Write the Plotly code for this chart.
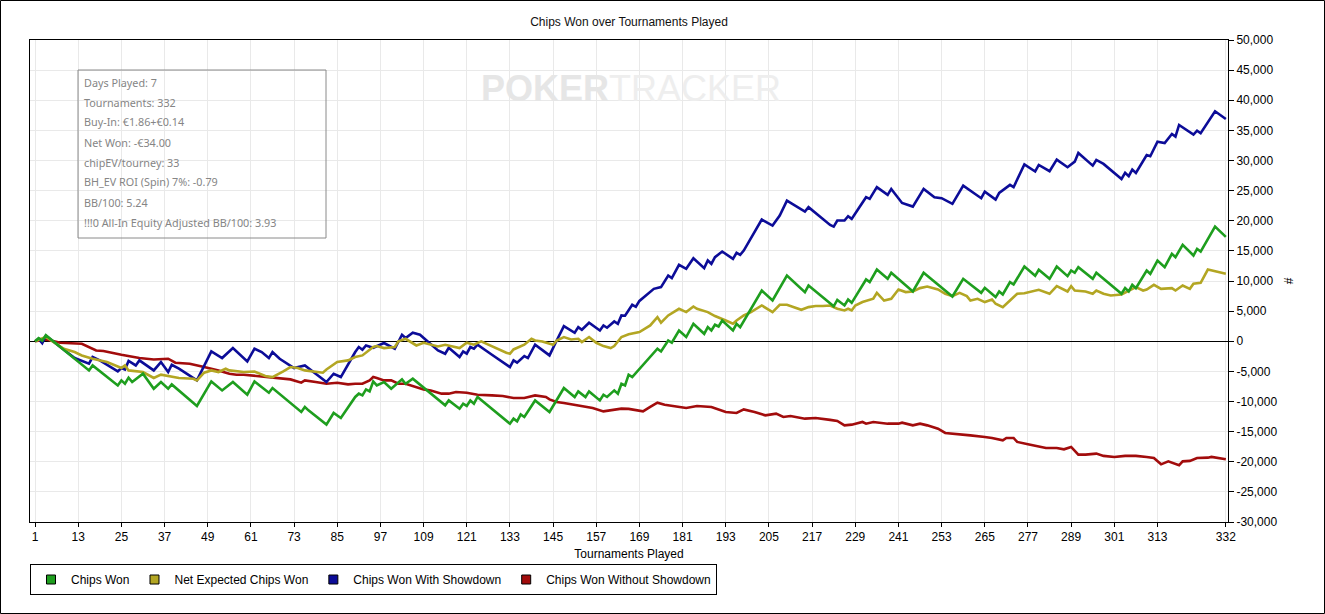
import plotly.graph_objects as go

# (tournament, chips) pairs
chips_won = [
    (1, 0), (2, 500), (3, 100), (4, 1000), (16, -4840), (17, -4010), (24, -7330), (25, -6500),
    (26, -7050), (27, -6050), (28, -6760), (31, -5390), (34, -7880), (36, -6760), (38, -7880),
    (39, -7160), (46, -10740), (50, -6670), (53, -8160), (56, -6760), (60, -8870), (62, -6670),
    (66, -8540), (67, -7760), (75, -11740), (76, -10910), (77, -11470), (82, -13840), (84, -11900),
    (86, -12730), (90, -9250), (91, -8700), (92, -8990), (93, -7990), (94, -8320), (95, -6670),
    (96, -7330), (98, -6760), (100, -7880), (103, -6330), (104, -7050), (106, -6220), (115, -10640),
    (116, -9820), (119, -11190), (120, -10360), (121, -10740), (122, -9820), (123, -10360),
    (124, -9250), (133, -13680), (134, -12850), (135, -13300), (136, -12140), (137, -12570),
    (140, -9820), (144, -11740), (148, -7760), (151, -9250), (152, -8320), (154, -9250),
    (155, -8320), (158, -9820), (159, -8870), (160, -9250), (162, -8160), (163, -8700),
    (164, -7050), (165, -7330), (166, -5550), (167, -5940), (169, -4600), (174, -1240),
    (175, -1690), (177, 130), (178, -250), (180, 1790), (182, 700), (184, 2900), (187, 1240),
    (188, 2350), (189, 1790), (190, 2740), (191, 2450), (192, 3450), (195, 1790), (196, 2900),
    (197, 2350), (203, 8420), (206, 6760), (210, 10910), (215, 8160), (216, 9250), (223, 5800),
    (224, 6850), (226, 5940), (227, 6930), (228, 6380), (232, 10250), (233, 9820), (235, 11900),
    (238, 10360), (239, 11360), (245, 8260), (248, 11360), (256, 7430), (259, 10360), (264, 8040),
    (265, 8870), (268, 7330), (269, 8260), (270, 7760), (272, 9820), (273, 9420), (276, 12400),
    (279, 10860), (280, 11870), (283, 10360), (285, 12400), (288, 10810), (289, 11740),
    (290, 11360), (291, 12300), (295, 10360), (296, 11360), (303, 7880), (304, 8820), (305, 8260),
    (306, 9370), (307, 8820), (310, 11740), (311, 11190), (313, 13400), (315, 12300), (317, 14510),
    (318, 13960), (320, 16000), (323, 14230), (324, 15340), (325, 14890), (329, 19030), (332, 17330),
]

net_expected = [
    (1, 0), (4, 700), (9, -1240), (12, -1790), (14, -2350), (17, -2900), (21, -3450), (25, -4440),
    (26, -4010), (27, -4840), (31, -5110), (34, -6100), (36, -5550), (38, -5770), (41, -6100),
    (45, -6220), (46, -6500), (48, -5220), (50, -4840), (52, -5110), (54, -4560), (55, -4840),
    (59, -5110), (62, -5010), (65, -5770), (67, -5940), (69, -5390), (70, -5010), (72, -4280),
    (74, -4440), (76, -4840), (79, -5110), (81, -5220), (82, -4680), (85, -3450), (88, -3180),
    (90, -2620), (92, -2350), (95, -960), (96, -800), (98, -1130), (101, -960), (102, 0),
    (104, 410), (106, -410), (107, -700), (109, -250), (111, -550), (113, -860), (115, -580),
    (117, -800), (119, -1130), (121, -250), (123, -580), (125, -30), (127, -580), (129, -1130),
    (132, -1910), (133, -2070), (134, -1360), (137, -580), (139, 410), (140, 130), (142, -30),
    (145, -580), (146, 130), (148, 700), (150, 300), (152, 410), (153, -130), (155, 700),
    (157, -250), (159, -800), (161, -1130), (162, -800), (164, 700), (166, 1150), (169, 1530),
    (172, 2620), (174, 4010), (175, 3070), (177, 4280), (180, 5390), (182, 4840), (184, 5770),
    (185, 5390), (188, 4840), (190, 4180), (193, 3450), (195, 2900), (196, 3450), (198, 4280),
    (200, 4840), (203, 5940), (206, 4840), (208, 6050), (210, 6050), (212, 5670), (214, 5220),
    (216, 5670), (218, 5840), (220, 5840), (222, 5940), (224, 5390), (226, 5110), (227, 5390),
    (228, 5110), (229, 5940), (231, 6500), (234, 7050), (235, 8040), (237, 6760), (239, 7050),
    (241, 8590), (243, 8160), (245, 8260), (247, 8820), (249, 9090), (252, 8590), (254, 7880),
    (256, 7490), (258, 8040), (260, 7490), (261, 6760), (263, 7050), (265, 6500), (267, 6930),
    (268, 6220), (270, 5670), (272, 6760), (274, 7880), (276, 7960), (278, 8260), (280, 8540),
    (283, 7880), (285, 9150), (288, 8260), (289, 9150), (290, 8420), (293, 8260), (295, 7880),
    (296, 8420), (298, 7880), (300, 7590), (303, 7760), (305, 8420), (307, 8990), (309, 8420),
    (310, 8590), (312, 9370), (314, 8700), (317, 8820), (318, 8420), (320, 9250), (322, 8700),
    (323, 9530), (325, 9700), (327, 11900), (328, 11740), (331, 11360), (332, 11190),
]

with_showdown = [
    (1, 0), (2, 400), (3, -300), (4, 900), (12, -2790), (16, -3730), (17, -2620), (19, -3180),
    (24, -5010), (25, -4440), (26, -4680), (27, -3280), (29, -4010), (30, -3180), (34, -4840),
    (36, -3450), (38, -5110), (39, -3900), (41, -4560), (46, -6500), (50, -1690), (53, -2790),
    (56, -1130), (60, -3350), (62, -1240), (64, -1790), (66, -2790), (67, -1790), (69, -2900),
    (73, -4440), (76, -4010), (82, -6760), (84, -5390), (86, -5940), (90, -1790), (91, -960),
    (92, -1400), (93, -700), (95, -1080), (98, -300), (101, -1240), (103, 1080), (104, 530),
    (106, 1410), (108, 1080), (111, -410), (113, -1530), (115, -2070), (116, -1080), (119, -2620),
    (120, -1690), (121, -2070), (122, -960), (123, -1240), (124, -580), (128, -2240), (133, -4280),
    (134, -3180), (135, -3560), (137, -2450), (138, -2790), (140, -580), (144, -2350), (146, 130),
    (148, 2520), (151, 1410), (152, 2350), (153, 1900), (155, 3070), (158, 1790), (159, 2620),
    (160, 2240), (162, 3280), (163, 2900), (164, 4280), (165, 4230), (167, 6050), (168, 5720),
    (169, 6700), (173, 8700), (175, 8990), (177, 10910), (178, 10480), (180, 12680), (182, 12020),
    (184, 13790), (187, 12140), (188, 13400), (189, 12850), (190, 13960), (192, 14890),
    (195, 13680), (196, 14670), (197, 14340), (198, 15050), (203, 20190), (206, 19200),
    (208, 20860), (210, 23340), (215, 21520), (216, 22250), (222, 19300), (223, 19030),
    (224, 20030), (226, 20030), (227, 20760), (228, 20310), (230, 22130), (232, 23910),
    (233, 23630), (235, 25570), (238, 24290), (239, 25280), (242, 22960), (245, 22350),
    (248, 25280), (251, 23910), (253, 23740), (256, 22800), (259, 25830), (264, 23740),
    (265, 24840), (268, 23510), (269, 24620), (272, 25950), (273, 25570), (276, 29350),
    (279, 28180), (280, 29260), (283, 28220), (285, 30140), (288, 28880), (290, 29810),
    (291, 31250), (295, 29150), (296, 30090), (298, 29430), (303, 26940), (304, 27940),
    (305, 27390), (306, 28490), (307, 27940), (310, 30920), (311, 30710), (313, 33130),
    (315, 32910), (317, 34400), (318, 33960), (319, 35900), (323, 34290), (324, 34950),
    (325, 34520), (329, 38170), (332, 36890),
]

without_showdown = [
    (1, 0), (4, 300), (8, -250), (12, -410), (14, -410), (18, -1530), (20, -1620), (25, -2240),
    (27, -2450), (30, -2790), (34, -3020), (38, -2900), (40, -3560), (44, -3730), (48, -4280),
    (52, -4840), (55, -5400), (57, -5550), (59, -5550), (63, -5770), (66, -5940), (69, -6100),
    (72, -6330), (75, -6880), (76, -6500), (79, -6760), (82, -7050), (85, -6880), (88, -7160),
    (90, -7050), (92, -7050), (94, -6500), (95, -5940), (96, -6100), (98, -6500), (100, -6500),
    (102, -7050), (104, -7050), (107, -7600), (109, -7990), (111, -8160), (114, -8700),
    (116, -8700), (118, -8420), (121, -8540), (124, -8870), (128, -8990), (131, -9090),
    (134, -9420), (137, -9420), (140, -8990), (143, -9250), (144, -9650), (146, -10080),
    (148, -10250), (151, -10530), (153, -10740), (156, -11080), (159, -11640), (161, -11470),
    (164, -11190), (166, -11220), (170, -11640), (172, -10910), (174, -10200), (176, -10530),
    (178, -10740), (182, -11080), (185, -10740), (189, -10910), (193, -11740), (196, -11900),
    (198, -11310), (201, -11740), (204, -12300), (207, -12020), (209, -12570), (211, -12400),
    (215, -12850), (218, -12730), (222, -13050), (224, -13230), (226, -13960), (228, -13840),
    (231, -13400), (232, -13680), (234, -13400), (238, -13680), (241, -13680), (242, -13510),
    (245, -13960), (247, -13680), (249, -13960), (252, -14510), (254, -15220), (257, -15340),
    (261, -15620), (265, -15880), (267, -16050), (270, -16450), (271, -16050), (273, -16050),
    (274, -16710), (277, -17080), (279, -17380), (282, -17710), (285, -17710), (287, -17940),
    (289, -17540), (291, -18820), (293, -18820), (296, -18650), (298, -19030), (301, -19200),
    (304, -19030), (307, -19030), (310, -19200), (312, -19370), (314, -20430), (316, -19930),
    (319, -20590), (320, -19930), (322, -19860), (324, -19370), (327, -19320), (328, -19200),
    (332, -19600),
]

series_names = ["Chips Won", "Net Expected Chips Won", "Chips Won With Showdown", "Chips Won Without Showdown"]
series_colors = ["#1e9e1e", "#b3a623", "#0c0c98", "#a20c0c"]

x_ticks = [1, 13, 25, 37, 49, 61, 73, 85, 97, 109, 121, 133, 145, 157, 169, 181, 193, 205,
           217, 229, 241, 253, 265, 277, 289, 301, 313, 332]
y_ticks = list(range(-30000, 50001, 5000))
y_tick_labels = [f"{v:,}" for v in y_ticks]

stats_lines = [
    "Days Played: 7",
    "Tournaments: 332",
    "Buy-In: €1.86+€0.14",
    "Net Won: -€34.00",
    "chipEV/tourney: 33",
    "BH_EV ROI (Spin) 7%: -0.79",
    "BB/100: 5.24",
    "!!!0 All-In Equity Adjusted BB/100: 3.93",
]

W, H = 1325, 614
L, R, T, B = 30, 1228, 40, 522


def px(x):
    # pixel -> paper x
    return (x - L) / (R - L)


def py(y):
    # pixel -> paper y
    return (B - y) / (B - T)


FONT = "Liberation Sans, Arial, sans-serif"

fig = go.Figure()

all_series = [chips_won, net_expected, with_showdown, without_showdown]
# draw red first so green ends up on top
for pts, name, color in reversed(list(zip(all_series, series_names, series_colors))):
    fig.add_trace(go.Scatter(
        x=[p[0] for p in pts], y=[p[1] for p in pts], mode="lines", name=name,
        line=dict(color=color, width=2.6), showlegend=False,
    ))

# legend entries with square swatches
for name, color in zip(series_names, series_colors):
    fig.add_trace(go.Scatter(
        x=[None], y=[None], mode="markers", name=name,
        marker=dict(symbol="square", size=9, color=color, line=dict(color="black", width=1)),
    ))

fig.update_layout(
    width=W, height=H,
    margin=dict(l=L, r=W - R, t=T, b=H - B),
    paper_bgcolor="white", plot_bgcolor="white",
    font=dict(family=FONT, size=12, color="black"),
    title=dict(text="Chips Won over Tournaments Played", x=px(629), xref="paper",
               y=1 - 22 / H, yanchor="middle", xanchor="center",
               font=dict(family=FONT, size=12, color="#111")),
    showlegend=True,
    legend=dict(orientation="h", x=0, y=py(564), xanchor="left", yanchor="top",
                bordercolor="black", borderwidth=1, bgcolor="white",
                font=dict(family=FONT, size=12), itemwidth=30, traceorder="normal"),
    xaxis=dict(range=[-0.4, 332.6], tickvals=x_ticks, ticks="outside", ticklen=4,
               tickcolor="black", showline=True, linecolor="black", linewidth=1, mirror=True,
               showgrid=True, gridcolor="#e9e9e9", gridwidth=1, zeroline=False,
               title=dict(text="Tournaments Played", standoff=6, font=dict(size=12)),
               tickfont=dict(size=12)),
    yaxis=dict(range=[-30000, 50000], side="right", tickvals=y_ticks, ticktext=y_tick_labels,
               ticks="outside", ticklen=5, tickcolor="black", showline=True, linecolor="black",
               linewidth=1, mirror=True, showgrid=True, gridcolor="#e9e9e9", gridwidth=1,
               zeroline=True, zerolinecolor="black", zerolinewidth=1,
               title=dict(text="#", standoff=8, font=dict(size=12)), tickfont=dict(size=12)),
)

# outer frame of the picture
fig.add_shape(type="rect", xref="paper", yref="paper",
              x0=px(0.5), x1=px(W - 0.5), y0=py(H - 0.5), y1=py(0.5),
              line=dict(color="black", width=1), fillcolor="rgba(0,0,0,0)", layer="below")

# watermark
fig.add_annotation(x=px(631), y=py(89), xref="paper", yref="paper", showarrow=False,
                   xanchor="center", yanchor="middle",
                   text="<span style='color:#e6e6e6'><b>POKER</b></span>"
                        "<span style='color:#eeeeee'>TRACKER</span>",
                   font=dict(family=FONT, size=36))

# stats box
fig.add_shape(type="rect", xref="paper", yref="paper",
              x0=px(78), x1=px(326), y0=py(238), y1=py(70),
              line=dict(color="#8a8a8a", width=1), fillcolor="rgba(0,0,0,0)")
for i, line in enumerate(stats_lines):
    fig.add_annotation(x=px(82), y=py(82 + 20 * i), xref="paper", yref="paper",
                       xanchor="left", yanchor="middle", showarrow=False, text=line,
                       font=dict(family="Noto Sans, sans-serif", size=10.8, color="#858585"))

# page body has a default margin; drop it so the figure sits at the window corner
fig.write_html("out.html", config={"displayModeBar": False},
               post_script="document.body.style.margin='0';")
